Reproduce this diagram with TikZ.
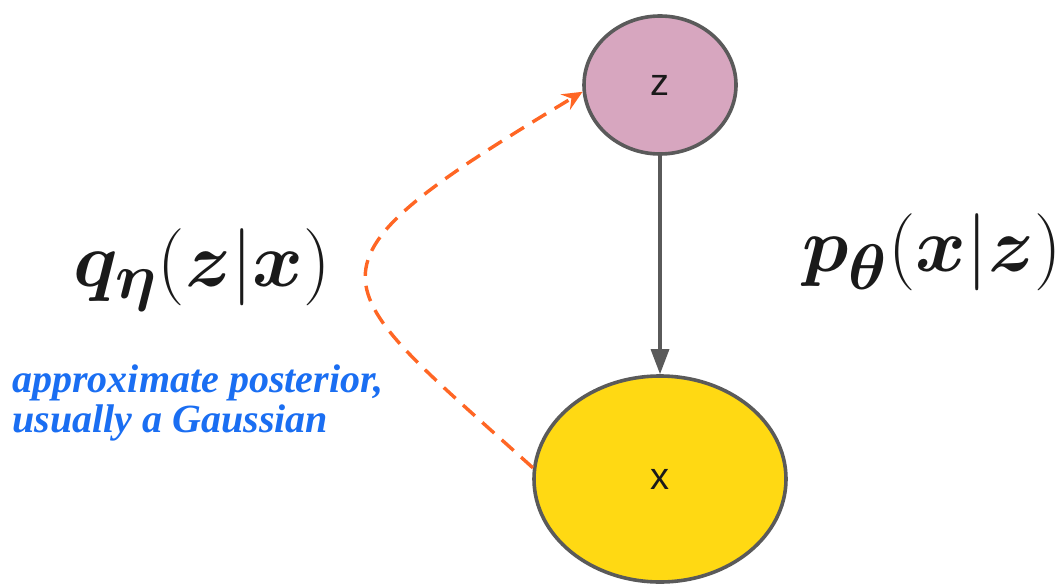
\documentclass[tikz,border=0pt]{standalone}
\usepackage{amsmath}
\usepackage{bm}
\usepackage{fontspec}
\newfontfamily\labelsans{Liberation Sans}
\newfontfamily\notefont{Liberation Serif}
\usetikzlibrary{
  arrows.meta,
  shapes.geometric
}
\definecolor{vaeInk}{HTML}{1A1A1A}
\definecolor{vaeGray}{HTML}{5A5A5A}
\definecolor{vaePink}{HTML}{D7A6BF}
\definecolor{vaeGold}{HTML}{FFD913}
\definecolor{vaeOrange}{HTML}{FF6624}
\definecolor{vaeBlue}{HTML}{1A6EF2}
\tikzset{
  every node/.style={text=vaeInk},
  varnode/.style={
    ellipse,
    draw=vaeGray,
    line width=1.8pt,
    inner sep=0pt,
    font=\labelsans\fontsize{19pt}{23pt}\selectfont
  },
  latent/.style={varnode, fill=vaePink, minimum width=76pt, minimum height=69pt},
  observed/.style={varnode, fill=vaeGold, minimum width=126pt, minimum height=103pt},
  dist/.style={font=\Huge, scale=1.55, transform shape, inner sep=0pt},
  note/.style={
    font=\notefont\bfseries\itshape\fontsize{20pt}{20pt}\selectfont,
    text=vaeBlue,
    align=left,
    inner sep=0pt
  },
  genlink/.style={
    -{Triangle[length=12.5pt,width=9pt]},
    line width=1.6pt,
    draw=vaeGray
  },
  inflink/.style={
    -{Stealth[length=10pt,width=9pt,inset=3.5pt]},
    line width=1.7pt,
    draw=vaeOrange,
    dash pattern=on 8pt off 5pt
  }
}

\begin{document}
\begin{tikzpicture}[x=0.5pt,y=0.5pt]
  \useasboundingbox (0,0) rectangle (1064,585);

  \node[latent] (z) at (660,500) {z};
  \node[observed] (x) at (660,106) {x};

  \node[dist] (qdist) at (202,315)
    {$\boldsymbol{q}_{\boldsymbol{\eta}}(\boldsymbol{z}|\boldsymbol{x})$};
  \node[dist, anchor=east] (pdist) at (1062,333)
    {$\boldsymbol{p}_{\boldsymbol{\theta}}(\boldsymbol{x}|\boldsymbol{z})$};

  \node[note, anchor=base west] (qnote) at (12,153)
    {approximate posterior,\\usually a Gaussian};

  \draw[genlink] (z) -- (x);
  \draw[inflink] (x.175) .. controls +(-210,190) and +(-300,-180) .. (z.185);
\end{tikzpicture}
\end{document}
